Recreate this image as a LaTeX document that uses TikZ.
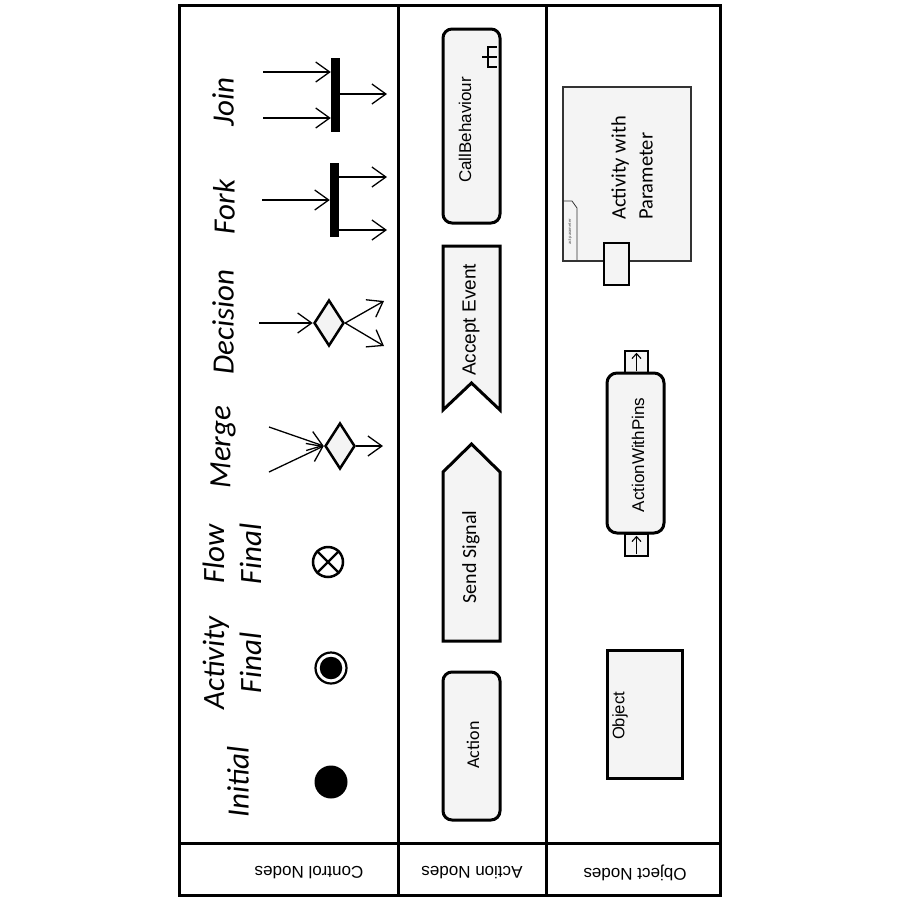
\documentclass[tikz,border=0pt]{standalone}
\usepackage{fontspec}
\setmainfont{Carlito}
\newfontfamily\arialf{Liberation Sans}
\usetikzlibrary{arrows.meta,shapes.geometric}
\definecolor{shapefill}{HTML}{F4F4F4}
\begin{document}
\begin{tikzpicture}[x=1pt,y=-1pt,
  frameline/.style={line width=3pt},
  flowarrow/.style={line width=1.3pt,-{Straight Barb[length=14pt,width=20pt,line width=1.3pt]}},
  pinarrow/.style={line width=1.1pt,-{Straight Barb[length=5pt,width=9pt,line width=1.1pt]}},
  syncbar/.style={fill=black,draw=none,minimum width=9pt,minimum height=74pt,inner sep=0pt},
  ctrllabel/.style={rotate=90,font=\itshape\fontsize{31}{37}\selectfont,inner sep=0pt,align=center},
  choice/.style={diamond,draw,line width=2.5pt,fill=shapefill,minimum width=30pt,minimum height=46pt,inner sep=0pt},
  actbox/.style={draw,line width=3pt,fill=shapefill,rounded corners=9pt,inner sep=0pt},
  plainbox/.style={draw,line width=3pt,fill=shapefill,inner sep=0pt},
  thinbox/.style={draw,line width=1.2pt,fill=shapefill,inner sep=0pt},
  arialtxt/.style={rotate=90,inner sep=0pt},
  caltxt/.style={rotate=90,inner sep=0pt},
  foot/.style={rotate=180,inner sep=0pt,font=\arialf\fontsize{17}{20}\selectfont}
]
\useasboundingbox (0,0) rectangle (900,900);
\fill[white] (0,0) rectangle (900,900);

% ---------- frame ----------
\draw[frameline] (179,5) rectangle (720,895);
\draw[frameline] (398,5) -- (398,895);
\draw[frameline] (546,5) -- (546,895);
\draw[frameline] (179,843) -- (720,843);

\node[foot] (cnl) at (309,873) {Control Nodes};
\node[foot] (anl) at (472,873) {Action Nodes};
\node[foot] (onl) at (635,873) {Object Nodes};

% ---------- control nodes ----------
\node[ctrllabel] (ljoin) at (223,102) {Join};
\node[ctrllabel] (lfork) at (224,207) {Fork};
\node[ctrllabel] (ldec) at (223,322) {Decision};
\node[ctrllabel] (lmer) at (223,447) {Merge};
\node[ctrllabel] (lflow) at (232,554) {Flow\\Final};
\node[ctrllabel] (lact) at (232,663) {Activity\\Final};
\node[ctrllabel] (linit) at (238,782) {Initial};

% join
\node[syncbar] (joinbar) at (335.5,95) {};
\coordinate (jin1) at (263,72);
\coordinate (jin2) at (263,118);
\coordinate (jout) at (387,94);
\draw[flowarrow] (jin1) -- (jin1 -| joinbar.west);
\draw[flowarrow] (jin2) -- (jin2 -| joinbar.west);
\draw[flowarrow] (jout -| joinbar.east) -- (jout);

% fork
\node[syncbar] (forkbar) at (334.5,200) {};
\coordinate (fin) at (262,200);
\coordinate (fout1) at (387,177);
\coordinate (fout2) at (387,230);
\draw[flowarrow] (fin) -- (fin -| forkbar.west);
\draw[flowarrow] (fout1 -| forkbar.east) -- (fout1);
\draw[flowarrow] (fout2 -| forkbar.east) -- (fout2);

% decision
\node[choice] (dec) at (329,323) {};
\coordinate (din) at (259,323);
\coordinate (dout1) at (384,301);
\coordinate (dout2) at (384,346);
\draw[flowarrow] (din) -- (dec.west);
\draw[flowarrow] (dec.east) -- (dout1);
\draw[flowarrow] (dec.east) -- (dout2);

% merge
\node[choice] (mer) at (340,446) {};
\coordinate (min1) at (269,427);
\coordinate (min2) at (269,472);
\coordinate (mout) at (383,446);
\draw[flowarrow] (min1) -- (mer.west);
\draw[flowarrow] (min2) -- (mer.west);
\draw[flowarrow] (mer.east) -- (mout);

% flow final
\node[circle,draw,line width=2.5pt,fill=white,minimum size=30pt,inner sep=0pt] (ff) at (328,562) {};
\draw[line width=2.2pt] (ff.45) -- (ff.225);
\draw[line width=2.2pt] (ff.135) -- (ff.315);

% activity final
\node[circle,draw,line width=2.2pt,fill=white,minimum size=31pt,inner sep=0pt] (af) at (331,668) {};
\node[circle,fill=black,minimum size=22.5pt,inner sep=0pt] (afin) at (af) {};

% initial
\node[circle,fill=black,minimum size=33pt,inner sep=0pt] (ini) at (331,782) {};

% ---------- action nodes ----------
\node[actbox,minimum width=57pt,minimum height=194pt] (cb) at (471.5,126) {};
\node[arialtxt,font=\arialf\fontsize{17}{20}\selectfont] (cbt) at (465,130) {CallBehaviour};
\draw[line width=2.6pt] (482,57) -- (497,57);
\draw[line width=2.6pt] (497,47) -- (488,47) -- (488,67) -- (497,67);

\draw[line width=3pt,fill=shapefill,line join=miter] (443,246) -- (500,246) -- (500,410) -- (471.5,383) -- (443,410) -- cycle;
\node[arialtxt,font=\arialf\fontsize{19}{22}\selectfont] (aet) at (471,320) {Accept Event};

\draw[line width=3pt,fill=shapefill,line join=miter] (471.5,444) -- (500,472) -- (500,641) -- (443,641) -- (443,472) -- cycle;
\node[caltxt,font=\fontsize{20}{24}\selectfont] (sst) at (471,557) {Send Signal};

\node[actbox,minimum width=57pt,minimum height=148pt] (act) at (471.5,746) {};
\node[caltxt,font=\fontsize{18}{22}\selectfont] (actt) at (473,745) {Action};

% ---------- object nodes ----------
\node[draw=black!80,line width=1.2pt,fill=shapefill,minimum width=128pt,minimum height=174pt,inner sep=0pt] (actframe) at (627,174) {};
\draw[line width=0.8pt,black!80] (563,201) -- (572,201) -- (577,208) -- (577,261);
\node[rotate=90,inner sep=0pt,font=\fontsize{4.5}{5}\selectfont,text=black!70] (tabt) at (570,232) {act parameter};
\node[caltxt,font=\fontsize{20.5}{27}\selectfont,align=left,anchor=west] (awp) at (632,220) {Activity with\\Parameter};
\node[thinbox,minimum width=25pt,minimum height=42pt] (param) at (616.5,264) {};

\node[plainbox,minimum width=23pt,minimum height=22pt,line width=2.5pt] (pintop) at (636.5,362) {};
\node[plainbox,minimum width=23pt,minimum height=22pt,line width=2.5pt] (pinbot) at (636.5,545) {};
\node[actbox,rounded corners=10pt,minimum width=57pt,minimum height=160pt] (awpins) at (635.5,453) {};
\node[arialtxt,font=\arialf\fontsize{17}{20}\selectfont] (awpt) at (638,455) {ActionWithPins};
\draw[pinarrow,shorten <=3pt,shorten >=3pt] (pintop.south) -- (pintop.north);
\draw[pinarrow,shorten <=3pt,shorten >=3pt] (pinbot.south) -- (pinbot.north);

\node[plainbox,minimum width=75pt,minimum height=128pt] (obj) at (644.5,714) {};
\node[arialtxt,font=\arialf\fontsize{16.6}{20}\selectfont] (objt) at (620,716) {Object};
\end{tikzpicture}
\end{document}
